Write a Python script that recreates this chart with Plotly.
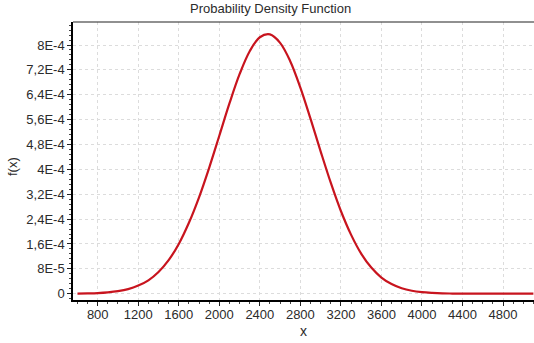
import plotly.graph_objects as go

# Values
x_vals = [600, 700, 800, 900, 1000, 1100, 1200, 1300, 1400, 1500, 1600, 1700, 1800,
          1900, 2000, 2100, 2200, 2300, 2400, 2500, 2600, 2700, 2800, 2900, 3000,
          3100, 3200, 3300, 3400, 3500, 3600, 3700, 3800, 3900, 4000, 4100, 4200,
          4300, 4400, 4500, 4600, 4700, 4800, 4900, 5000, 5100]
y_vals = [4.0e-7, 1.0e-6, 2.0e-6, 4.2e-6, 8.0e-6, 1.45e-5, 2.6e-5, 4.3e-5, 7.0e-5,
          1.08e-4, 1.60e-4, 2.28e-4, 3.10e-4, 4.05e-4, 5.08e-4, 6.12e-4, 7.06e-4,
          7.80e-4, 8.25e-4, 8.34e-4, 8.07e-4, 7.48e-4, 6.63e-4, 5.63e-4, 4.58e-4,
          3.57e-4, 2.66e-4, 1.90e-4, 1.29e-4, 8.4e-5, 5.2e-5, 3.1e-5, 1.75e-5,
          9.5e-6, 5.0e-6, 2.5e-6, 1.0e-6, 5.0e-7, 2.0e-7, 1.0e-7, 0, 0, 0, 0, 0, 0]

x_ticks = [800, 1200, 1600, 2000, 2400, 2800, 3200, 3600, 4000, 4400, 4800]
x_tick_labels = ["800", "1200", "1600", "2000", "2400", "2800", "3200", "3600",
                 "4000", "4400", "4800"]
y_ticks = [0, 8e-5, 1.6e-4, 2.4e-4, 3.2e-4, 4e-4, 4.8e-4, 5.6e-4, 6.4e-4, 7.2e-4, 8e-4]
y_tick_labels = ["0", "8E-5", "1,6E-4", "2,4E-4", "3,2E-4", "4E-4", "4,8E-4",
                 "5,6E-4", "6,4E-4", "7,2E-4", "8E-4"]

font_family = "Liberation Sans, Arial, sans-serif"
text_col = "#2b2b2b"

fig = go.Figure()
fig.add_trace(go.Scatter(
    x=x_vals, y=y_vals, mode="lines",
    line=dict(color="#c8141e", width=2.2, shape="spline", smoothing=1.0),
    hoverinfo="skip", showlegend=False,
))

fig.update_layout(
    width=534, height=343,
    margin=dict(l=73, r=0, t=22, b=43, autoexpand=False),
    paper_bgcolor="white", plot_bgcolor="white",
    font=dict(family=font_family, size=12, color=text_col),
    xaxis=dict(
        range=[556, 5106], tickvals=x_ticks, ticktext=x_tick_labels,
        automargin=False, ticklabelstandoff=-3,
        showline=True, linecolor="black", linewidth=2,
        ticks="outside", ticklen=4, tickcolor="#222", tickwidth=1,
        showgrid=True, gridcolor="#dcdcdc", griddash="dot", gridwidth=1,
        zeroline=False,
        minor=dict(tick0=0, dtick=100, ticks="outside", ticklen=2,
                   tickcolor="#444", showgrid=False),
        tickfont=dict(size=13, color=text_col),
    ),
    yaxis=dict(
        range=[-2.03e-5, 8.74e-4], tickvals=y_ticks, ticktext=y_tick_labels,
        automargin=False,
        showline=True, linecolor="black", linewidth=1.5,
        ticks="outside", ticklen=4, tickcolor="#222", tickwidth=1,
        showgrid=True, gridcolor="#dcdcdc", griddash="dot", gridwidth=1,
        zeroline=False,
        minor=dict(tick0=0, dtick=1.6e-5, ticks="outside", ticklen=2,
                   tickcolor="#444", showgrid=False),
        tickfont=dict(size=13, color=text_col),
    ),
    shapes=[dict(type="line", xref="paper", yref="paper", x0=0, x1=1, y0=1, y1=1,
                 line=dict(color="#222", width=1.2))],
    annotations=[
        dict(text="Probability Density Function", xref="paper", yref="paper",
             x=(270 - 73) / 461, y=1, yshift=14, xanchor="center", yanchor="middle",
             showarrow=False, font=dict(size=13, color=text_col)),
        dict(text="x", xref="paper", yref="paper",
             x=(303 - 73) / 461, y=0, yshift=-31, xanchor="center", yanchor="middle",
             showarrow=False, font=dict(size=14, color=text_col)),
        dict(text="f(x)", xref="paper", yref="paper",
             x=0, xshift=-61, y=(300 - 167) / 278, xanchor="center", yanchor="middle",
             textangle=-90, showarrow=False, font=dict(size=13, color=text_col)),
    ],
)

fig.write_html("out.html", config={"displayModeBar": False},
               post_script="document.body.style.margin='0';document.body.style.padding='0';")
